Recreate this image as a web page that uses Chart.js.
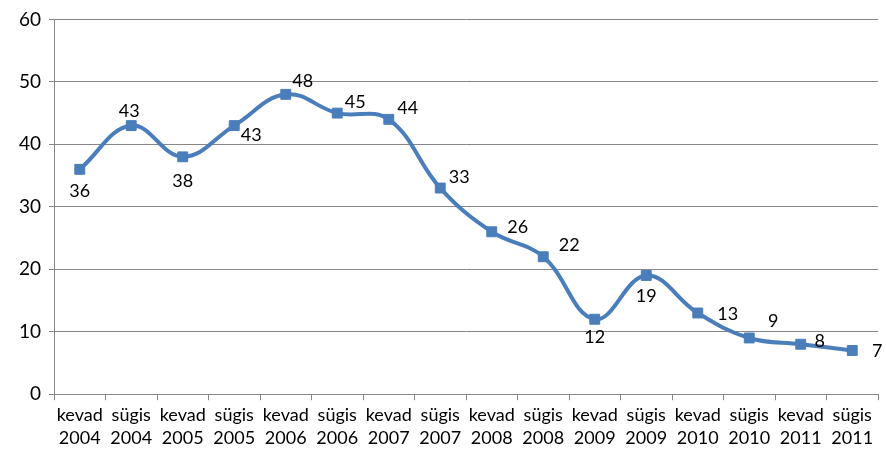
<!DOCTYPE html>
<html>
<head>
<meta charset="utf-8">
<script src="https://cdn.jsdelivr.net/npm/chart.js@4/dist/chart.umd.min.js"></script>
<style>
  html, body { margin: 0; padding: 0; background: #fff; }
  #wrap { width: 886px; height: 453px; }
</style>
</head>
<body>
<div id="wrap"><canvas id="lineChart" width="886" height="453"></canvas></div>
<script>
const seasons = ['kevad', 'sügis', 'kevad', 'sügis', 'kevad', 'sügis', 'kevad', 'sügis',
                 'kevad', 'sügis', 'kevad', 'sügis', 'kevad', 'sügis', 'kevad', 'sügis'];
const years = ['2004', '2004', '2005', '2005', '2006', '2006', '2007', '2007',
               '2008', '2008', '2009', '2009', '2010', '2010', '2011', '2011'];
const values = [36, 43, 38, 43, 48, 45, 44, 33, 26, 22, 12, 19, 13, 9, 8, 7];

// where each value label sits relative to its marker (dx, dy in px)
const labelOffsets = [
  [0, 22], [-2, -14], [0, 24], [17, 10], [17, -13], [18, -11], [19, -11], [19, -11],
  [26, -5], [26, -12], [0, 18], [0, 21], [30, 1], [24, -17], [19, -3], [25, 1]
];

const lineColor = '#4a7ebb';
const axisGray = '#868686';
const fontFamily = 'Lato, "Noto Sans", sans-serif';

const valueLabels = {
  id: 'valueLabels',
  afterDatasetsDraw(chart) {
    const ctx = chart.ctx;
    const meta = chart.getDatasetMeta(0);
    ctx.save();
    ctx.font = '18px ' + fontFamily;
    ctx.fillStyle = '#000';
    ctx.textAlign = 'center';
    ctx.textBaseline = 'middle';
    meta.data.forEach((pt, i) => {
      const [dx, dy] = labelOffsets[i];
      ctx.fillText(String(values[i]), pt.x + dx, pt.y + dy);
    });
    ctx.restore();
  }
};

new Chart(document.getElementById('lineChart'), {
  type: 'line',
  data: {
    labels: seasons.map((s, i) => [s, years[i]]),
    datasets: [{
      data: values,
      borderColor: lineColor,
      backgroundColor: lineColor,
      borderWidth: 4,
      tension: 0.4,
      pointStyle: 'rect',
      pointRadius: 7,
      pointHoverRadius: 7,
      pointBorderWidth: 1,
      pointBorderColor: lineColor,
      fill: false
    }]
  },
  options: {
    responsive: false,
    animation: false,
    layout: { padding: { top: 15, right: 6, left: 0, bottom: 0 } },
    plugins: {
      legend: { display: false },
      tooltip: { enabled: false }
    },
    scales: {
      x: {
        offset: true,
        grid: {
          drawOnChartArea: false,
          drawTicks: true,
          tickLength: 6,
          color: axisGray,
          offset: true
        },
        border: { color: axisGray, width: 1 },
        ticks: {
          color: '#000',
          font: { family: fontFamily, size: 18, lineHeight: 1.3 },
          maxRotation: 0,
          autoSkip: false,
          padding: 3
        }
      },
      y: {
        min: 0,
        max: 60,
        afterFit(scale) { scale.width = 54; },
        ticks: {
          stepSize: 10,
          color: '#000',
          font: { family: fontFamily, size: 19 },
          padding: 8
        },
        grid: {
          color: axisGray,
          lineWidth: 1,
          tickLength: 5,
          drawTicks: true
        },
        border: { color: axisGray, width: 1 }
      }
    }
  },
  plugins: [valueLabels]
});
</script>
</body>
</html>
